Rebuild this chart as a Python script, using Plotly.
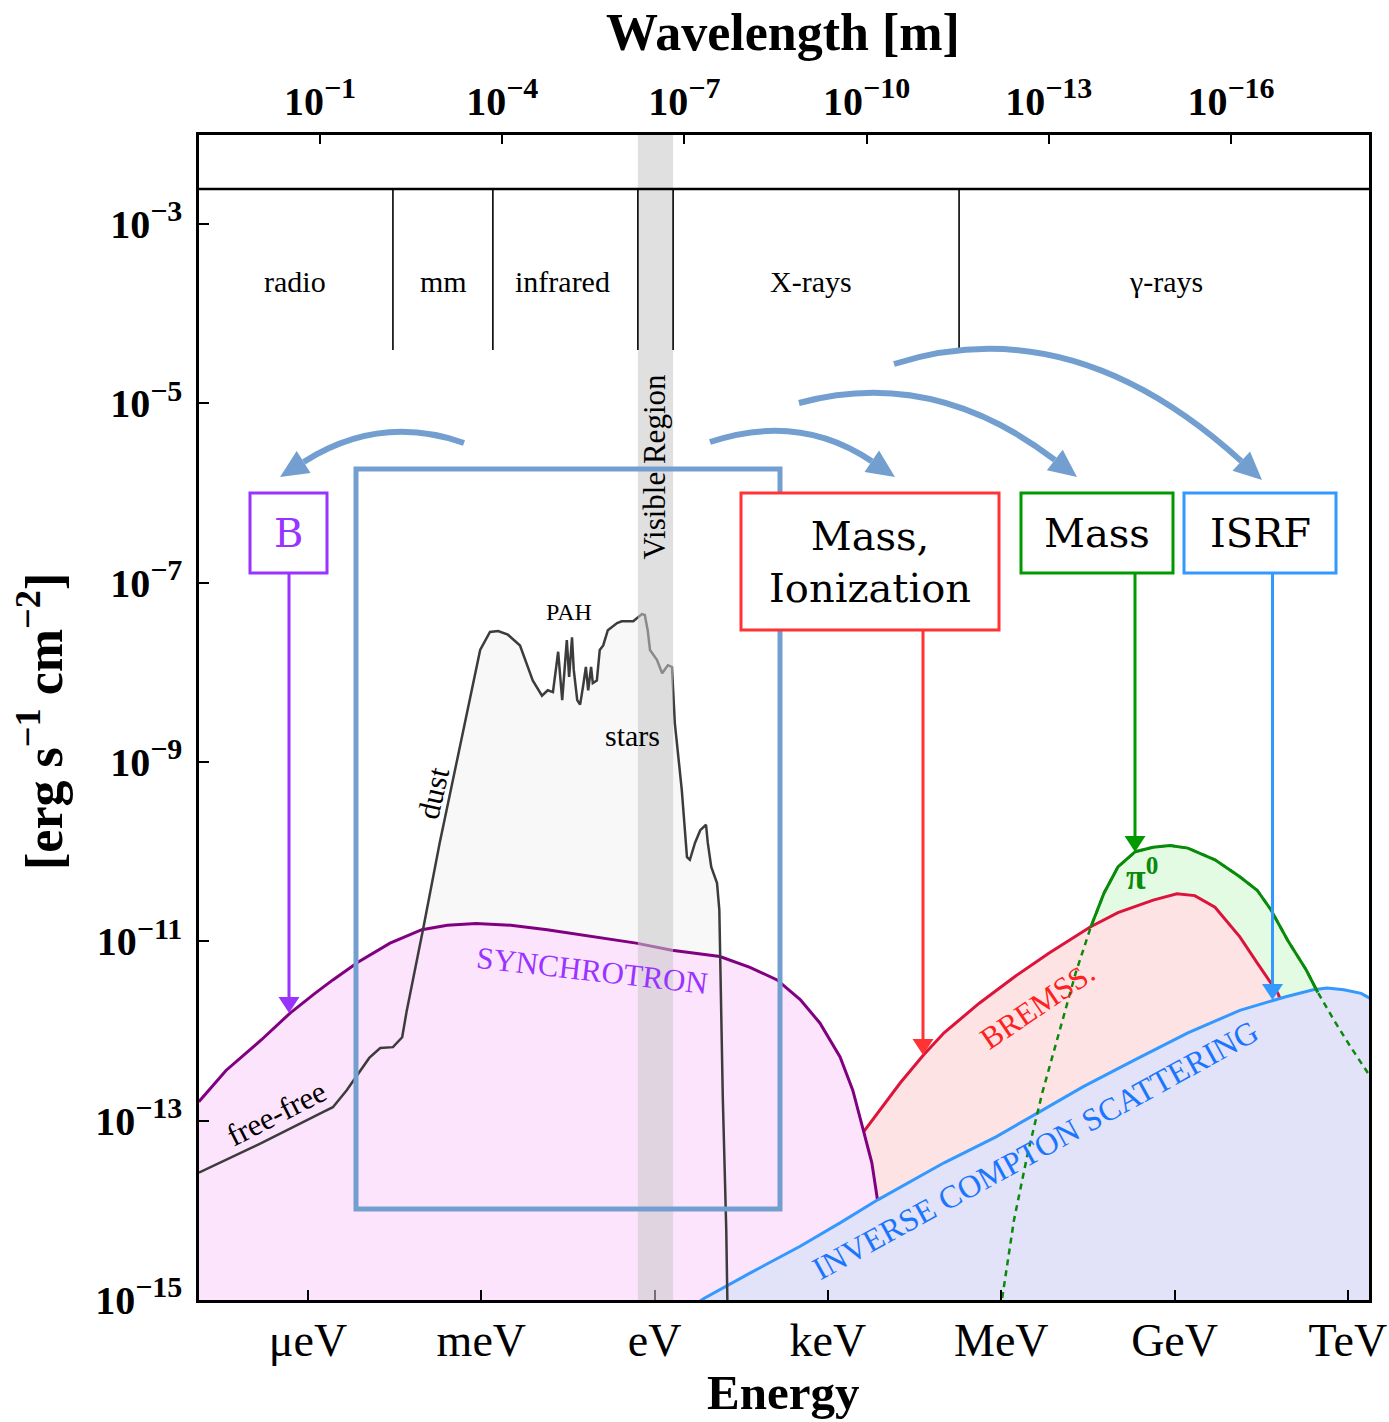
import numpy as np
import plotly.graph_objects as go

# ---------------------------------------------------------------------------
# Broadband emission components of a star-forming galaxy.
# Energies are log10(E / eV), fluxes are log10(F / erg s^-1 cm^-2).
# ---------------------------------------------------------------------------
sync_log_e = [-7.89, -7.42, -6.81, -6.31, -5.88, -5.57, -5.13, -4.58, -4.03, -3.59,
              -3.09, -2.49, -1.86, -1.24, -0.32, 0.30, 1.13, 1.65, 2.12, 2.52,
              2.86, 3.21, 3.43, 3.61, 3.76, 3.85, 3.97, 4.08, 4.13]
sync_log_f = [-12.79, -12.44, -12.10, -11.80, -11.58, -11.43, -11.23, -11.02, -10.87, -10.82,
              -10.80, -10.82, -10.87, -10.93, -11.02, -11.10, -11.17, -11.29, -11.43, -11.65,
              -11.91, -12.29, -12.66, -13.10, -13.47, -13.85, -14.44, -15.00, -15.40]

# free-free -> dust -> PAH -> stars (one continuous thermal curve)
dust_log_e = [-7.89, -6.81, -5.76, -5.57, -5.33, -5.13, -4.94, -4.75, -4.53, -4.37,
              -4.29, -4.01, -3.72, -3.42, -3.20, -3.02, -2.85, -2.71, -2.54, -2.33,
              -2.11, -1.95, -1.85, -1.76, -1.67, -1.60, -1.52, -1.48, -1.43, -1.40,
              -1.34, -1.29, -1.24, -1.19, -1.15, -1.10, -1.07, -1.00, -0.95, -0.89,
              -0.81, -0.65, -0.57, -0.37, -0.22, -0.17, -0.12, -0.08, 0.04, 0.13,
              0.23, 0.30, 0.35, 0.47, 0.56, 0.61, 0.70, 0.79, 0.89, 0.92,
              0.98, 1.08, 1.12, 1.18, 1.24, 1.25, 1.27]
dust_log_f = [-13.58, -13.25, -12.91, -12.85, -12.66, -12.47, -12.30, -12.19, -12.18, -12.07,
              -11.77, -10.87, -9.90, -8.98, -8.31, -7.75, -7.55, -7.54, -7.58, -7.70,
              -8.09, -8.26, -8.20, -8.22, -7.77, -8.31, -7.64, -8.05, -7.61, -7.97,
              -8.31, -8.36, -8.16, -7.94, -8.20, -7.94, -8.12, -8.09, -7.75, -7.70,
              -7.53, -7.45, -7.43, -7.43, -7.35, -7.36, -7.53, -7.75, -7.86, -8.01,
              -7.92, -7.94, -8.57, -9.31, -10.06, -10.09, -9.90, -9.76, -9.70, -9.90,
              -10.17, -10.35, -10.65, -12.74, -14.22, -15.00, -15.45]

brems_log_e = [3.61, 4.25, 4.65, 5.01, 5.62, 6.22, 6.83, 7.54, 8.02, 8.63,
               9.04, 9.35, 9.70, 10.13, 10.43, 10.79, 11.17]
brems_log_f = [-13.13, -12.58, -12.27, -12.02, -11.69, -11.40, -11.13, -10.84, -10.68, -10.54,
               -10.47, -10.49, -10.62, -10.95, -11.24, -11.58, -12.21]

pi0_log_e = [5.96, 6.03, 6.22, 6.46, 6.71, 7.00, 7.29, 7.55, 7.78, 8.02, 8.32, 8.63,
             8.92, 9.23, 9.70, 10.13, 10.43, 10.67, 10.96, 11.28, 11.48, 11.76, 12.05, 12.37]
pi0_log_f = [-15.22, -14.92, -14.11, -13.36, -12.69, -12.02, -11.35, -10.84, -10.46, -10.17,
             -10.00, -9.95, -9.93, -9.96, -10.09, -10.28, -10.43, -10.65, -10.99, -11.32,
             -11.57, -11.88, -12.18, -12.49]
pi0_dominant = slice(7, 21)   # part of the pion bump lying above bremsstrahlung and IC

ic_log_e = [0.61, 0.86, 1.65, 2.52, 3.21, 3.87, 5.01, 5.91, 6.64, 7.42,
            8.32, 9.23, 10.13, 10.91, 11.40, 11.64, 11.93, 12.23, 12.37, 12.56]
ic_log_f = [-15.09, -14.98, -14.70, -14.40, -14.14, -13.88, -13.47, -13.18, -12.91, -12.62,
            -12.32, -12.02, -11.77, -11.62, -11.54, -11.52, -11.54, -11.58, -11.63, -11.75]

# axis ticks
energy_ticks = [-6, -3, 0, 3, 6, 9, 12]
energy_labels = ["μeV", "meV", "eV", "keV", "MeV", "GeV", "TeV"]
wavelength_ticks = [-1, -4, -7, -10, -13, -16]
flux_ticks = [-3, -5, -7, -9, -11, -13, -15]

# spectral bands (log10 E in eV)
band_names = ["radio", "mm", "infrared", "X-rays", "γ-rays"]
band_label_log_e = [-6.22, -3.66, -1.60, 2.71, 8.85]
band_edges_log_e = [-4.53, -2.80, -0.29, 0.32, 5.27]
visible_log_e = [-0.29, 0.32]
band_top_log_f = -2.61
band_bottom_log_f = -4.405
band_label_log_f = -3.636

# ---------------------------------------------------------------------------
SERIF = "Liberation Serif"
BOXFONT = "DejaVu Serif"
W, H = 1389, 1422
ML, MR, MT, MB = 199, 20, 135, 122
PW, PH = W - ML - MR, H - MT - MB

ARROW_BLUE = "#729fcf"
C_SYNC, C_SYNC_TXT, C_SYNC_FILL = "#800080", "#9933ff", "#fde4fd"
C_BREMS, C_BREMS_TXT, C_BREMS_FILL = "#dc143c", "#ff2020", "#fde3e3"
C_PI0, C_PI0_FILL = "#0a8a0a", "#e3fbe3"
C_IC, C_IC_TXT, C_IC_FILL = "#3399ff", "#1a75ff", "#e2e2f9"


def p10(a):
    return [10.0 ** v for v in a]


def region(le, lf, floor=-17.0):
    x = p10(le) + [10.0 ** le[-1], 10.0 ** le[0]]
    y = p10(lf) + [10.0 ** floor, 10.0 ** floor]
    return x, y


def X(px):
    return (px - ML) / PW


def Y(py):
    return (H - MB - py) / PH


def sup_label(base, exp, sup_size=30):
    return f"<b>{base}<sup><span style='font-size:{sup_size}px'>−{exp}</span></sup></b>"


def text_note(text, x, y, size, color="black", family=SERIF, angle=0, xref="paper",
              yref="paper"):
    return dict(text=text, xref=xref, yref=yref, x=x, y=y, textangle=angle,
                xanchor="center", yanchor="middle", showarrow=False,
                font=dict(family=family, size=size, color=color))


fig = go.Figure()


def fill_trace(le, lf, color):
    x, y = region(le, lf)
    fig.add_trace(go.Scatter(x=x, y=y, mode="lines", fill="toself", fillcolor=color,
                             line=dict(width=0), hoverinfo="skip"))


def line_trace(le, lf, color, width=3, dash="solid"):
    fig.add_trace(go.Scatter(x=p10(le), y=p10(lf), mode="lines",
                             line=dict(color=color, width=width, dash=dash), hoverinfo="skip"))


fill_trace(dust_log_e, dust_log_f, "#f8f8f8")
fill_trace(pi0_log_e, pi0_log_f, C_PI0_FILL)
fill_trace(brems_log_e, brems_log_f, C_BREMS_FILL)
line_trace(brems_log_e, brems_log_f, C_BREMS)
fill_trace(sync_log_e, sync_log_f, C_SYNC_FILL)
line_trace(sync_log_e, sync_log_f, C_SYNC)
fill_trace(ic_log_e, ic_log_f, C_IC_FILL)
line_trace(ic_log_e, ic_log_f, C_IC)
line_trace(dust_log_e, dust_log_f, "#3c3c3c", width=2.5)
line_trace(pi0_log_e, pi0_log_f, C_PI0, width=2.5, dash="6px,5px")
line_trace(pi0_log_e[pi0_dominant], pi0_log_f[pi0_dominant], C_PI0, width=3)

# anchor trace for the wavelength axis
fig.add_trace(go.Scatter(x=[1e-3], y=[1e-10], xaxis="x2", mode="markers",
                         marker=dict(opacity=0), hoverinfo="skip"))

shapes = []
annotations = []

# visible band and spectral band dividers
shapes.append(dict(type="rect", xref="x", yref="paper", x0=10 ** visible_log_e[0],
                   x1=10 ** visible_log_e[1], y0=0, y1=1, fillcolor="rgba(200,200,200,0.56)",
                   line=dict(width=0), layer="above"))
shapes.append(dict(type="line", xref="paper", yref="y", x0=0, x1=1,
                   y0=10 ** band_top_log_f, y1=10 ** band_top_log_f,
                   line=dict(color="black", width=2.5), layer="above"))
for e in band_edges_log_e:
    shapes.append(dict(type="line", xref="x", yref="y", x0=10 ** e, x1=10 ** e,
                       y0=10 ** band_top_log_f, y1=10 ** band_bottom_log_f,
                       line=dict(color="black", width=1.6), layer="above"))
for name, e in zip(band_names, band_label_log_e):
    annotations.append(text_note(name, e, band_label_log_f, 30, xref="x", yref="y"))
annotations.append(text_note("Visible Region", (visible_log_e[0] + visible_log_e[1]) / 2,
                             Y(467), 31, angle=-90, xref="x"))

# frame around the low-energy (thermal / synchrotron) part
shapes.append(dict(type="rect", xref="paper", yref="paper", x0=X(356), x1=X(780),
                   y0=Y(1209), y1=Y(469), line=dict(color=ARROW_BLUE, width=5), layer="above"))


def arrow_head(tip, u, length, half, color):
    n = np.array([-u[1], u[0]])
    b = tip - length * u
    p1, p2 = b + half * n, b - half * n
    return dict(type="path", xref="paper", yref="paper", layer="above",
                path=(f"M {X(tip[0])},{Y(tip[1])} L {X(p1[0])},{Y(p1[1])} "
                      f"L {X(p2[0])},{Y(p2[1])} Z"),
                fillcolor=color, line=dict(width=0))


def curved_arrow(start, mid, tip, color=ARROW_BLUE, width=6, length=28, half=13):
    S, M, T = (np.array(v, float) for v in (start, mid, tip))
    E = T.copy()
    for _ in range(6):
        C = 2 * M - 0.5 * (S + E)
        u = (T - C) / np.linalg.norm(T - C)
        E = T - length * u
    C = 2 * M - 0.5 * (S + E)
    shapes.append(dict(type="path", xref="paper", yref="paper", layer="above",
                       path=(f"M {X(S[0])},{Y(S[1])} Q {X(C[0])},{Y(C[1])} "
                             f"{X(E[0])},{Y(E[1])}"),
                       line=dict(color=color, width=width)))
    shapes.append(arrow_head(T, u, length, half, color))


def down_arrow(x, y0, y_tip, color, width=3, length=16, half=10.5):
    shapes.append(dict(type="line", xref="paper", yref="paper", layer="above",
                       x0=X(x), x1=X(x), y0=Y(y0), y1=Y(y_tip - length + 1),
                       line=dict(color=color, width=width)))
    shapes.append(arrow_head(np.array([x, y_tip], float), np.array([0.0, 1.0]),
                             length, half, color))


def label_box(x0, y0, x1, y1, text, color, text_color="black", size=40):
    shapes.append(dict(type="rect", xref="paper", yref="paper", layer="above",
                       x0=X(x0), x1=X(x1), y0=Y(y1), y1=Y(y0), fillcolor="white",
                       line=dict(color=color, width=3)))
    annotations.append(text_note(text, X((x0 + x1) / 2), Y((y0 + y1) / 2), size,
                                 color=text_color, family=BOXFONT))


curved_arrow((464, 443), (382, 433), (280, 477))
curved_arrow((710, 442), (795, 432), (895, 477))
curved_arrow((799, 403), (930, 399), (1077, 477))
curved_arrow((894, 364), (1070, 360), (1262, 480))

down_arrow(289, 573, 1013, C_SYNC_TXT)
down_arrow(923, 630, 1055, "#ff3333")
down_arrow(1135, 573, 852, "#009900")
down_arrow(1272.5, 573, 1000, "#3399ff")

label_box(250, 493, 327, 573, "B", C_SYNC_TXT, text_color=C_SYNC_TXT)
label_box(741, 493, 999, 630, "Mass,<br>Ionization", "#ff3333")
label_box(1021, 493, 1173, 573, "Mass", "#009900")
label_box(1184, 493, 1336, 573, "ISRF", "#3399ff")

# component labels
curve_labels = [
    ("dust", 433, 793, -77, 31, "black"),
    ("PAH", 569, 612, 0, 24, "black"),
    ("stars", 632, 735, 0, 30, "black"),
    ("free-free", 276, 1113, -27, 31, "black"),
    ("SYNCHROTRON", 592, 970, 6.5, 31, C_SYNC_TXT),
    ("BREMSS.", 1037, 1005, -34, 31, C_BREMS_TXT),
    ("INVERSE COMPTON SCATTERING", 1035, 1150, -28.8, 32, C_IC_TXT),
    ("<b>π<sup>0</sup></b>", 1142, 874, 0, 36, C_PI0),
]
for text, px, py, ang, size, color in curve_labels:
    annotations.append(text_note(text, X(px), Y(py), size, color=color, angle=ang))

# axis titles
annotations.append(text_note("<b>Wavelength [m]</b>", X(783), Y(32), 52))
annotations.append(text_note("<b>Energy</b>", X(783), Y(1392), 49))
annotations.append(text_note("<b>[erg s<sup>−1</sup> cm<sup>−2</sup>]</b>", X(40), Y(722),
                             52, angle=-90))

axis_common = dict(ticks="inside", tickwidth=2, tickcolor="black", showgrid=False,
                   zeroline=False, automargin=False)

fig.update_layout(
    width=W, height=H, autosize=False,
    margin=dict(l=ML, r=MR, t=MT, b=MB, pad=0, autoexpand=False),
    paper_bgcolor="white", plot_bgcolor="white",
    showlegend=False, hovermode=False,
    font=dict(family=SERIF, color="black"),
    xaxis=dict(type="log", range=[-7.887, 12.366], tickvals=p10(energy_ticks),
               ticktext=energy_labels, ticklen=10, showline=True, linewidth=2.5,
               linecolor="black", mirror=True, tickfont=dict(family=SERIF, size=46),
               ticklabelstandoff=-2, **axis_common),
    xaxis2=dict(type="log", range=[0.992, -18.272], overlaying="x", side="top",
                anchor="y", tickvals=p10(wavelength_ticks),
                ticktext=[sup_label("10", -t) for t in wavelength_ticks], ticklen=9,
                showline=False, tickfont=dict(family=SERIF, size=40),
                ticklabelstandoff=11, **axis_common),
    yaxis=dict(type="log", range=[-15, -2.007], tickvals=p10(flux_ticks),
               ticktext=[sup_label("10", -t) for t in flux_ticks], ticklen=10,
               showline=True, linewidth=2.5, linecolor="black", mirror=True,
               tickfont=dict(family=SERIF, size=40), ticklabelstandoff=6, **axis_common),
    shapes=shapes,
    annotations=annotations,
)

fig.write_html("out.html", config={"displayModeBar": False})
